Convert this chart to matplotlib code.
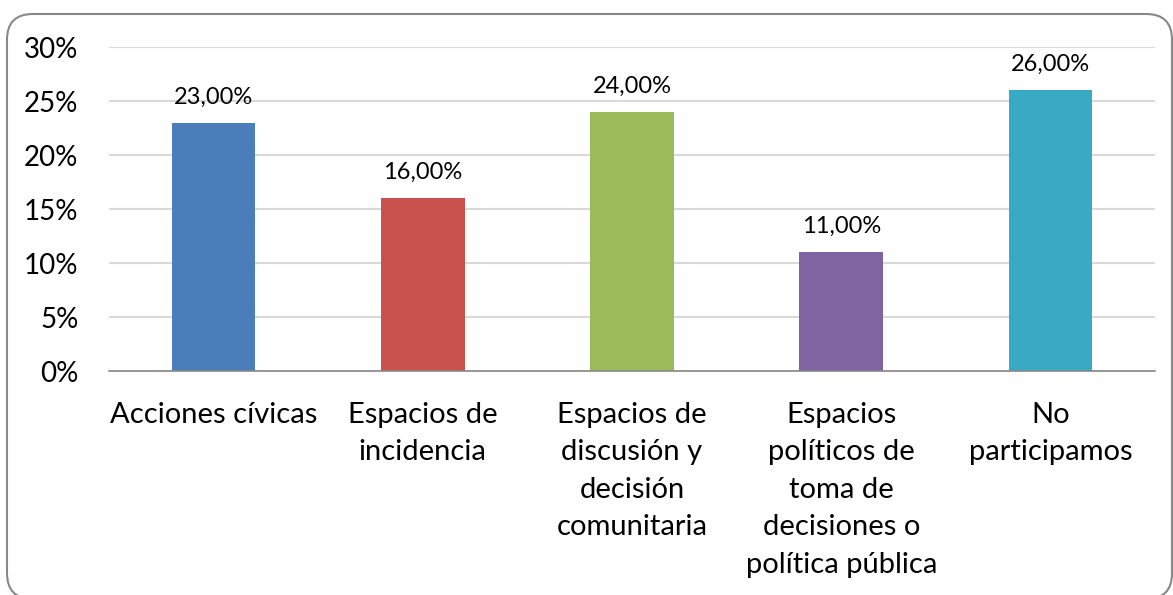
import matplotlib.pyplot as plt
from matplotlib.patches import FancyBboxPatch

plt.rcParams["font.family"] = ["Lato", "DejaVu Sans"]

categories = [
    "Acciones cívicas",
    "Espacios de\nincidencia",
    "Espacios de\ndiscusión y\ndecisión\ncomunitaria",
    "Espacios\npolíticos de\ntoma de\ndecisiones o\npolítica pública",
    "No\nparticipamos",
]
values = [23.0, 16.0, 24.0, 11.0, 26.0]
colors = ["#4A7EBB", "#C9514E", "#9BBB59", "#8064A2", "#38AAC4"]
yticks = [0, 5, 10, 15, 20, 25, 30]

W, H = 1173, 595
fig = plt.figure(figsize=(W / 100, H / 100), dpi=100)
ax = fig.add_axes([109 / W, 1 - 371 / H, (1155 - 109) / W, (371 - 47) / H])

x = range(len(categories))
ax.bar(x, values, width=0.4, color=colors, zorder=3)
for xi, v in zip(x, values):
    ax.text(xi, v + 1.75, f"{v:.2f}%".replace(".", ","), ha="center", va="baseline",
            fontsize=17, color="black")

ax.set_xlim(-0.5, len(categories) - 0.5)
ax.set_ylim(0, 30)
ax.set_yticks(yticks)
ax.set_yticklabels([f"{t}%" for t in yticks], fontsize=20)
ax.set_xticks(list(x))
ax.set_xticklabels(categories, fontsize=21, linespacing=1.55, va="top")
ax.tick_params(axis="both", length=0)
ax.tick_params(axis="y", pad=22)
ax.tick_params(axis="x", pad=22)
ax.grid(axis="y", color="#D9D9D9", linewidth=1.5, zorder=0)
for side in ["top", "right", "left"]:
    ax.spines[side].set_visible(False)
ax.spines["bottom"].set_color("#888888")
ax.spines["bottom"].set_linewidth(1.2)
ax.spines["bottom"].set_zorder(4)

# rounded outer frame, running off the bottom edge
frame = FancyBboxPatch((7 / W, -4 / H), (1172 - 7) / W, (595 + 4 - 14) / H,
                       boxstyle="round,pad=0,rounding_size=0.022",
                       transform=fig.transFigure, fill=False,
                       edgecolor="#888888", linewidth=1.5, mutation_aspect=W / H)
fig.patches.append(frame)

fig.savefig("out.png", dpi=100)
